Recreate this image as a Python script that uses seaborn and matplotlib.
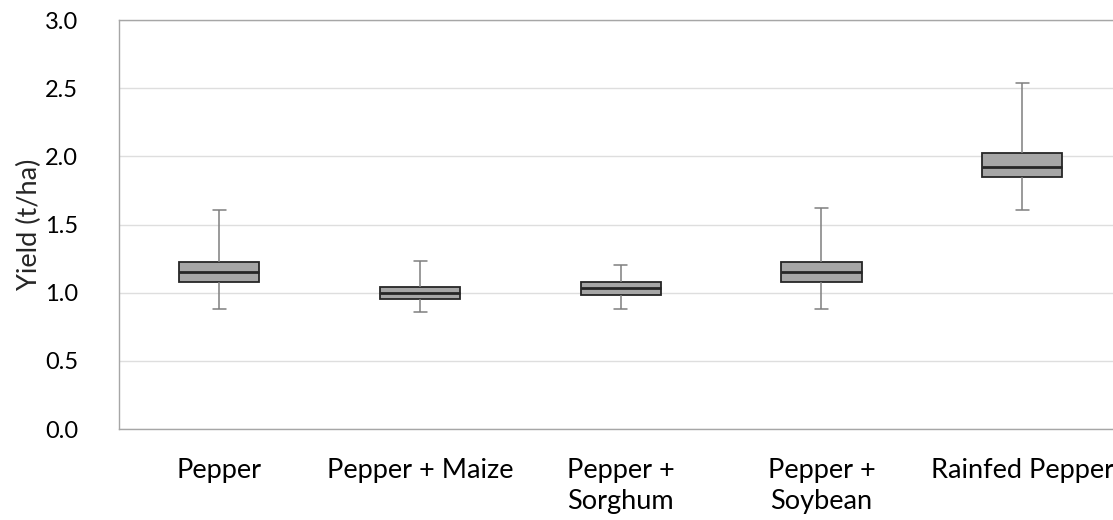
import matplotlib
matplotlib.use("Agg")
import matplotlib.pyplot as plt
import numpy as np
import pandas as pd
import seaborn as sns

# Treatments and their five-number summaries (min, Q1, median, Q3, max) in t/ha
treatments = ["Pepper", "Pepper + Maize", "Pepper +\nSorghum", "Pepper +\nSoybean", "Rainfed Pepper"]
pepper = [0.88, 1.08, 1.155, 1.225, 1.61]
pepper_maize = [0.86, 0.955, 0.995, 1.045, 1.235]
pepper_sorghum = [0.88, 0.98, 1.035, 1.08, 1.20]
pepper_soybean = [0.88, 1.08, 1.155, 1.225, 1.62]
rainfed_pepper = [1.61, 1.85, 1.925, 2.025, 2.535]
y_ticks = [0.0, 0.5, 1.0, 1.5, 2.0, 2.5, 3.0]

summaries = [pepper, pepper_maize, pepper_sorghum, pepper_soybean, rainfed_pepper]
df = pd.DataFrame(
    [(t, v) for t, vals in zip(treatments, summaries) for v in vals],
    columns=["Treatment", "Yield"],
)

sns.set_style("white")
plt.rcParams["font.family"] = ["Lato", "DejaVu Sans"]

fig = plt.figure(figsize=(11.13, 5.2), dpi=100)
W, H = 1113, 520
left, right, top, bottom = 119, 1122.5, 20, 429
ax = fig.add_axes([left / W, (H - bottom) / H, (right - left) / W, (bottom - top) / H])

grey_line = "#7f7f7f"
sns.boxplot(
    data=df, x="Treatment", y="Yield", order=treatments, ax=ax,
    whis=(0, 100), width=0.4, color="#a6a6a6", saturation=1,
    linewidth=1.3, linecolor="#262626", showfliers=False,
    whiskerprops=dict(color=grey_line, linewidth=1.1),
    capprops=dict(color=grey_line, linewidth=1.1),
    medianprops=dict(color="#262626", linewidth=2.0),
    boxprops=dict(edgecolor="#262626", linewidth=1.3, facecolor="#a6a6a6"),
    capwidths=0.065,
)

ax.set_ylim(0, 3.0)
ax.set_yticks(y_ticks)
ax.set_yticklabels([f"{v:.1f}" for v in y_ticks])
ax.set_xlim(-0.5, len(treatments) - 0.5)
ax.yaxis.grid(True, color="#dedede", linewidth=1.0)
ax.set_axisbelow(True)
for side in ["left", "bottom", "top", "right"]:
    ax.spines[side].set_color("#a6a6a6")
    ax.spines[side].set_linewidth(1.0)
ax.tick_params(axis="both", length=0, colors="#000000")
ax.tick_params(axis="y", labelsize=17, pad=29.5)
ax.tick_params(axis="x", labelsize=19.5, pad=21)
for lbl in ax.get_xticklabels():
    lbl.set_linespacing(1.3)
ax.set_xlabel("")
ax.set_ylabel("Yield (t/ha)", fontsize=19.5, labelpad=2)

fig.savefig("out.png", dpi=100)
